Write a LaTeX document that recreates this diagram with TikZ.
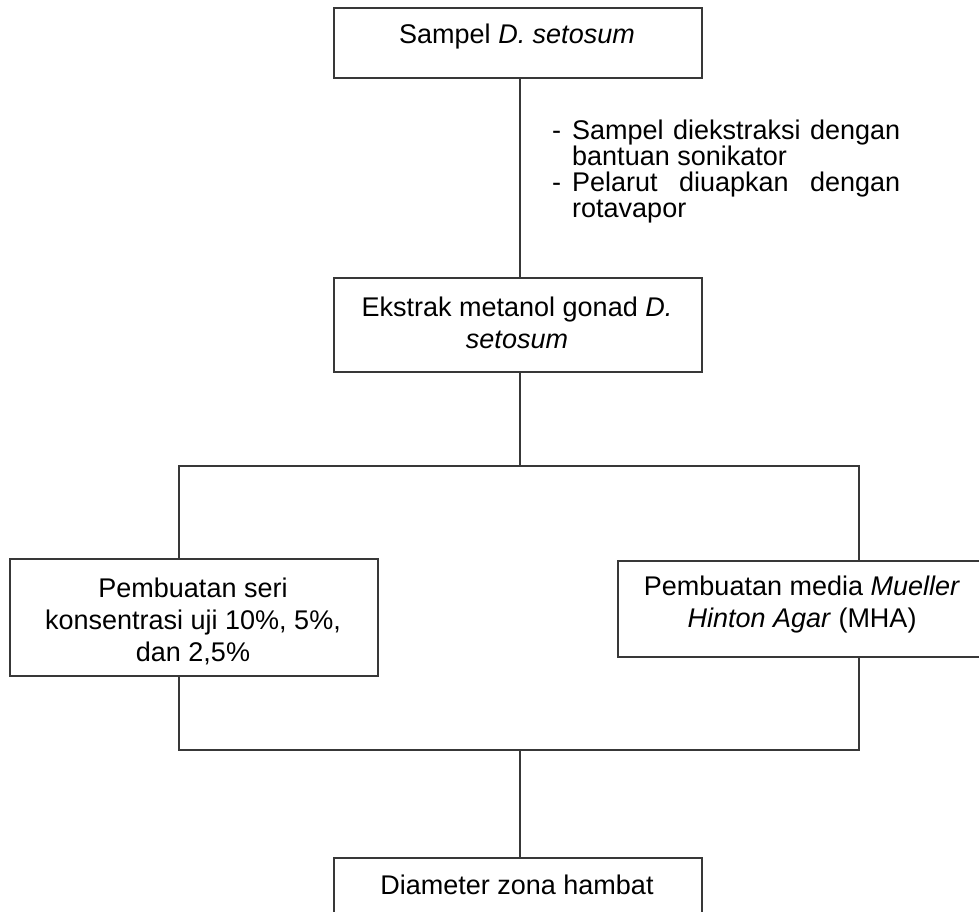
\documentclass[tikz,border=0pt]{standalone}
\usepackage{fontspec}
\setmainfont{Liberation Sans}
\begin{document}
\begin{tikzpicture}[x=1pt,y=-1pt,
  box/.style={draw=black!78, line width=1.6pt, inner sep=0pt, anchor=north west},
  conn/.style={draw=black!78, line width=1.6pt},
  txt/.style={inner sep=0pt, anchor=base, font=\fontsize{27}{32}\selectfont},
  side/.style={inner sep=0pt, anchor=base west, font=\fontsize{27}{32}\selectfont}]
\useasboundingbox (0,0) rectangle (979,912);
\clip (0,0) rectangle (979,912);
\fill[white] (0,0) rectangle (979,912);
% boxes
\node[box, minimum width=368pt, minimum height=70pt] (b1) at (333,7) {};
\node[box, minimum width=368pt, minimum height=94pt] (b2) at (333,277) {};
\node[box, minimum width=368pt, minimum height=117pt] (bl) at (9,558) {};
\node[box, minimum width=370pt, minimum height=96pt] (br) at (617,560) {};
\node[box, minimum width=368pt, minimum height=100pt] (b5) at (333,857) {};
% texts
\node[txt] (t1) at (517,44) {Sampel \textit{D. setosum}};
\node[side] (d1) at (552,140) {-};
\node[side] (s1) at (572,140) {\makebox[328pt][s]{Sampel diekstraksi dengan}};
\node[side] (s2) at (572,166) {bantuan sonikator};
\node[side] (d2) at (552,192) {-};
\node[side] (s3) at (572,192) {\makebox[328pt][s]{Pelarut diuapkan dengan}};
\node[side] (s4) at (572,218) {rotavapor};
\node[txt] (t2a) at (517,316) {Ekstrak metanol gonad \textit{D.}};
\node[txt] (t2b) at (517,348) {\textit{setosum}};
\node[txt] (tl1) at (193,597) {Pembuatan seri};
\node[txt] (tl2) at (193,629) {konsentrasi uji 10\%, 5\%,};
\node[txt] (tl3) at (193,661) {dan 2,5\%};
\node[txt] (tr1) at (802,595) {Pembuatan media \textit{Mueller}};
\node[txt] (tr2) at (802,627) {\textit{Hinton Agar} (MHA)};
\node[txt] (t5) at (517,894) {Diameter zona hambat};
% connector points
\coordinate (jc) at (520,466);
\coordinate (jl) at (179,466);
\coordinate (jr) at (859,466);
\coordinate (kc) at (520,750);
\coordinate (kl) at (179,750);
\coordinate (kr) at (859,750);
% connectors
\draw[conn] (b1.south -| jc) -- (b2.north -| jc);
\draw[conn] (b2.south -| jc) -- (jc);
\draw[conn] (bl.north -| jl) -- (jl) -- (jr) -- (br.north -| jr);
\draw[conn] (bl.south -| kl) -- (kl) -- (kr) -- (br.south -| kr);
\draw[conn] (kc) -- (b5.north -| kc);
\end{tikzpicture}
\end{document}
